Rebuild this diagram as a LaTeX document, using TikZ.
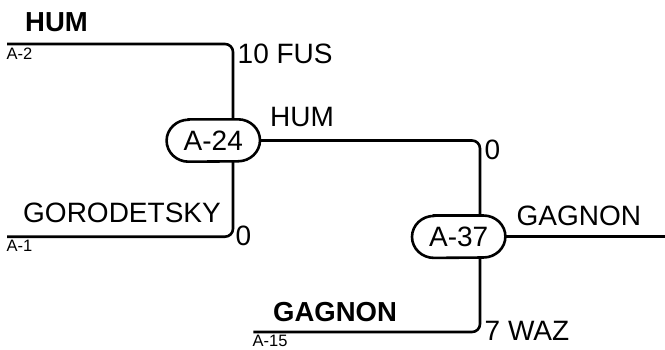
\documentclass[tikz,border=0pt]{standalone}
\usepackage{fontspec}
\setmainfont{Liberation Sans}
\usetikzlibrary{calc}
\begin{document}
\begin{tikzpicture}[x=1pt,y=1pt,
  lw/.style={line width=2.6pt},
  conn/.style={lw,rounded corners=8pt},
  lbl/.style={inner sep=0pt,anchor=base west,font=\fontsize{28}{28}\selectfont},
  blbl/.style={inner sep=0pt,anchor=base west,font=\fontsize{27.5}{27.5}\selectfont\bfseries},
  slbl/.style={inner sep=0pt,anchor=base west,font=\fontsize{16.5}{16.5}\selectfont},
  match/.style={inner sep=0pt,minimum width=93pt,minimum height=42pt,font=\fontsize{28}{28}\selectfont}
]
\useasboundingbox (0,0) rectangle (665,349);
% match nodes
\node[match] (a24) at (213.3,208.5) {A-24};
\node[match] (a37) at (458.7,112.3) {A-37};
\foreach \n in {a24,a37}{
  \draw[lw] ($(\n.north west)+(22,0)$) -- ($(\n.north east)+(-22,0)$)
    arc[start angle=90,end angle=-90,x radius=22,y radius=21]
    -- ($(\n.south west)+(22,0)$)
    arc[start angle=270,end angle=90,x radius=22,y radius=21] -- cycle;
}
% coordinates for line ends
\coordinate (a2s) at (7,305);
\coordinate (a1s) at (7,112.3);
\coordinate (a15s) at (253.3,17);
\coordinate (fin) at (665,112.3);
\coordinate (a24t) at (233,229.5);
\coordinate (a24b) at (233,187.5);
\coordinate (a37t) at (480,133.3);
\coordinate (a37b) at (480,91.3);
% connectors
\draw[conn] (a2s) -- (a2s -| a24t) -- (a24t);
\draw[conn] (a1s) -- (a1s -| a24b) -- (a24b);
\draw[conn] (a24.east) -- (a24.east -| a37t) -- (a37t);
\draw[conn] (a15s) -- (a15s -| a37b) -- (a37b);
\draw[lw] (a37.east) -- (fin);
% labels
\node[blbl] (t1) at (25,317.3) {HUM};
\node[slbl] (t2) at (6.5,289.7) {A-2};
\node[lbl] (t3) at (237.5,285) {10 FUS};
\node[lbl] (t4) at (270,222.3) {HUM};
\node[lbl] (t5) at (484.5,189.7) {0};
\node[lbl] (t6) at (23,126.5) {GORODETSKY};
\node[lbl] (t7) at (235.5,104) {0};
\node[slbl] (t8) at (6.5,97.3) {A-1};
\node[lbl] (t9) at (516.5,124) {GAGNON};
\node[blbl] (t10) at (273,27.5) {GAGNON};
\node[slbl] (t11) at (252.5,2.3) {A-15};
\node[lbl] (t12) at (484.5,9) {7 WAZ};
\end{tikzpicture}
\end{document}
